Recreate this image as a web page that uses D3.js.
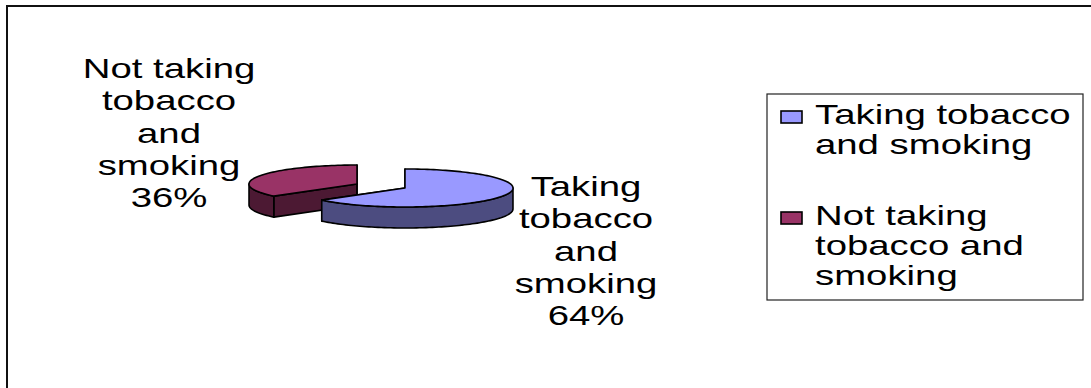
<!DOCTYPE html>
<html>
<head>
<meta charset="utf-8">
<script src="https://cdn.jsdelivr.net/npm/d3@7"></script>
<style>
  html, body { margin: 0; padding: 0; background: #fff; }
  svg { display: block; }
</style>
</head>
<body>
<div id="chart"></div>
<script>
// data ================================================================
const categories = ['Taking tobacco and smoking', 'Not taking tobacco and smoking'];
const values     = [64, 36];
const top_colors  = ['#9999ff', '#993366'];
const side_colors = ['#4c4c80', '#4c1933'];
const label_lines  = [
  ['Taking', 'tobacco', 'and', 'smoking', '64%'],
  ['Not taking', 'tobacco', 'and', 'smoking', '36%']
];
const legend_lines = [
  ['Taking tobacco', 'and smoking'],
  ['Not taking', 'tobacco and', 'smoking']
];

const width = 1091, height = 388;
const sx_text = 1.42; // text in the original is stretched horizontally

const svg = d3.select('#chart').append('svg')
  .attr('width', width).attr('height', height)
  .attr('viewBox', [0, 0, width, height]);

// outer frame
svg.append('rect')
  .attr('x', 7).attr('y', 6).attr('width', width + 20).attr('height', height + 20)
  .attr('fill', 'none').attr('stroke', '#111').attr('stroke-width', 2);

// 3D pie ==============================================================
const pie = { cx: 381, cy: 186, rx: 108, ry: 19, depth: 21, explode: 26.5 };

const arcs = d3.pie().sort(null).value(d => d)(values);

const proj = (o, a, dz = 0) => [
  o[0] + pie.rx * Math.sin(a),
  o[1] - pie.ry * Math.cos(a) + dz
];

function arc_pts(o, a0, a1, dz) {
  const n = Math.max(2, Math.ceil(Math.abs(a1 - a0) / 0.03));
  return d3.range(n + 1).map(i => proj(o, a0 + (a1 - a0) * i / n, dz));
}

const line = d3.line();
const g = svg.append('g')
  .attr('stroke', '#000').attr('stroke-width', 1.6).attr('stroke-linejoin', 'round');

// draw the back slice first so the front one overlaps it
const order = d3.range(arcs.length).sort((a, b) => {
  const ya = -Math.cos((arcs[a].startAngle + arcs[a].endAngle) / 2);
  const yb = -Math.cos((arcs[b].startAngle + arcs[b].endAngle) / 2);
  return ya - yb;
});

for (const i of order) {
  const d = arcs[i];
  const mid = (d.startAngle + d.endAngle) / 2;
  const o = [
    pie.cx + pie.explode * Math.sin(mid),
    pie.cy - pie.explode * Math.cos(mid) * pie.ry / pie.rx
  ];
  const sg = g.append('g');

  // radial walls
  for (const a of [d.startAngle, d.endAngle]) {
    const p = proj(o, a);
    sg.append('path')
      .attr('d', line([o, p, [p[0], p[1] + pie.depth], [o[0], o[1] + pie.depth]]) + 'Z')
      .attr('fill', side_colors[i]);
  }

  // front part of the outer wall
  const f0 = Math.max(d.startAngle, Math.PI / 2);
  const f1 = Math.min(d.endAngle, Math.PI * 3 / 2);
  if (f1 > f0) {
    const pts = arc_pts(o, f0, f1, 0).concat(arc_pts(o, f1, f0, pie.depth));
    sg.append('path').attr('d', line(pts) + 'Z').attr('fill', side_colors[i]);
  }

  // top face
  sg.append('path')
    .attr('d', line([o].concat(arc_pts(o, d.startAngle, d.endAngle, 0))) + 'Z')
    .attr('fill', top_colors[i]);
}

// data labels =========================================================
const font = { family: '"Liberation Sans", Arial, sans-serif', size: 27 };
const lh = 32.3;
const label_pos = [[586, 196], [169, 78]];

function text_block(parent, lines, x, y, anchor, step) {
  lines.forEach((t, k) => {
    parent.append('text')
      .attr('transform', `translate(${x},${y + k * step}) scale(${sx_text},1)`)
      .attr('text-anchor', anchor)
      .attr('font-family', font.family).attr('font-size', font.size)
      .attr('fill', '#000')
      .text(t);
  });
}

arcs.forEach((d, i) => {
  text_block(svg, label_lines[i], label_pos[i][0], label_pos[i][1], 'middle', lh);
});

// legend ==============================================================
const legend = { x: 767, y: 94, w: 316, h: 206 };
const lg = svg.append('g');
lg.append('rect')
  .attr('x', legend.x).attr('y', legend.y).attr('width', legend.w).attr('height', legend.h)
  .attr('fill', '#fff').attr('stroke', '#222').attr('stroke-width', 1.2);

const legend_y = [124, 225];
categories.forEach((c, i) => {
  lg.append('rect')
    .attr('x', 781).attr('y', legend_y[i] - 13).attr('width', 21).attr('height', 12)
    .attr('fill', top_colors[i]).attr('stroke', '#000').attr('stroke-width', 1.6);
  text_block(lg, legend_lines[i], 815, legend_y[i], 'start', 30);
});
</script>
</body>
</html>
